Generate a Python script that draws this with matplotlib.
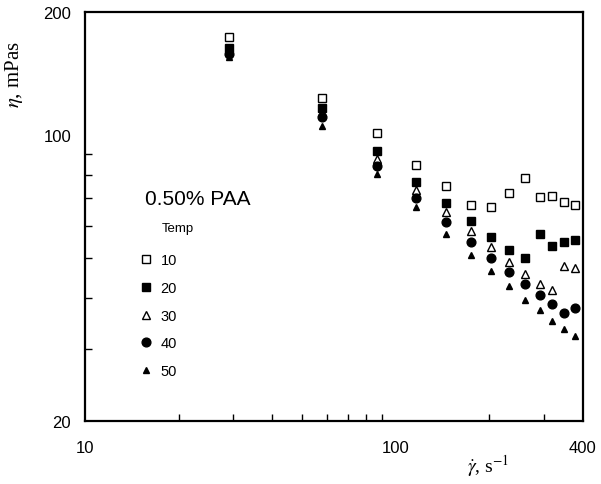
import matplotlib
matplotlib.use("Agg")
import matplotlib.pyplot as plt
from matplotlib.ticker import FixedLocator, NullFormatter, FixedFormatter

plt.rcParams['font.family'] = ['Liberation Sans', 'DejaVu Sans']
plt.rcParams['mathtext.fontset'] = 'stix'

# shear rate, 1/s
shear = [29, 58, 87, 116, 145, 174, 203, 232, 261, 290, 319, 348, 377]
# viscosity, mPas, per temperature
t10 = [173.7, 123.2, 101.2, 84.5, 75.1, 67.5, 66.7, 72.2, 78.6, 70.6, 71.0, 68.6, 67.5]
t20 = [163.3, 116.5, 91.5, 76.8, 68.2, 61.7, 56.4, 52.4, 50.1, 57.3, 53.6, 54.8, 55.4]
t30 = [160.6, 113.9, 87.4, 73.4, 64.9, 58.3, 53.3, 49.0, 45.8, 43.3, 41.8, 47.9, 47.3]
t40 = [157.9, 110.7, 84.0, 70.2, 61.3, 54.8, 50.1, 46.3, 43.3, 40.7, 38.6, 36.7, 37.8]
t50 = [155.2, 105.3, 80.3, 66.7, 57.3, 50.9, 46.5, 42.8, 39.5, 37.4, 35.1, 33.6, 32.3]

fig = plt.figure(figsize=(6.01, 4.85), dpi=100)
ax = fig.add_axes([0.1414, 0.1299, 0.8286, 0.8433])

h10, = ax.plot(shear, t10, 's', ms=5.8, mfc='white', mec='black', mew=1.0, ls='none', label='10')
h30, = ax.plot(shear, t30, '^', ms=6.3, mfc='white', mec='black', mew=1.0, ls='none', label='30')
h20, = ax.plot(shear, t20, 's', ms=5.8, color='black', ls='none', label='20')
h40, = ax.plot(shear, t40, 'o', ms=6.3, color='black', ls='none', label='40')
h50, = ax.plot(shear, t50, '^', ms=4.8, color='black', ls='none', label='50')

ax.set_xscale('log')
ax.set_yscale('log')
ax.set_xlim(10, 400)
ax.set_ylim(20, 200)

ax.xaxis.set_major_locator(FixedLocator([10, 100, 400]))
ax.xaxis.set_major_formatter(FixedFormatter(['10', '100', '400']))
ax.xaxis.set_minor_locator(FixedLocator([20, 30, 40, 50, 60, 70, 80, 90, 200, 300]))
ax.xaxis.set_minor_formatter(NullFormatter())
ax.yaxis.set_major_locator(FixedLocator([20, 100, 200]))
ax.yaxis.set_major_formatter(FixedFormatter(['20', '100', '200']))
ax.yaxis.set_minor_locator(FixedLocator([30, 40, 50, 60, 70, 80, 90]))
ax.yaxis.set_minor_formatter(NullFormatter())

ax.tick_params(which='both', direction='in', top=False, right=False, width=1.0, labelsize=12)
ax.tick_params(which='both', length=5)
ax.tick_params(axis='x', which='major', pad=14)
ax.tick_params(axis='y', which='major', pad=10)
# corner labels should not get a visible tick
for t in ax.xaxis.get_major_ticks():
    t.tick1line.set_visible(t.get_loc() == 100)
for t in ax.yaxis.get_major_ticks():
    t.tick1line.set_visible(t.get_loc() == 100)

for s in ax.spines.values():
    s.set_linewidth(1.6)

ax.set_xlabel(r'$\dot{\gamma}$, s$^{-1}$', fontsize=14, fontfamily='Liberation Serif')
ax.xaxis.set_label_coords(0.81, -0.075)
ax.set_ylabel(r'$\eta$, mPas', fontsize=15, fontfamily='Liberation Serif')
ax.yaxis.set_label_coords(-0.12, 0.85)

ax.text(0.12, 0.545, '0.50% PAA', transform=ax.transAxes, fontsize=15, va='center', ha='left')
ax.text(0.155, 0.473, 'Temp', transform=ax.transAxes, fontsize=9.5, va='center', ha='left')

ax.legend(handles=[h10, h20, h30, h40, h50], loc='upper left', bbox_to_anchor=(0.111, 0.411),
          frameon=False, fontsize=10.5, handlelength=0.8, handletextpad=0.6,
          labelspacing=0.95, borderpad=0, borderaxespad=0)

fig.savefig('out.png', dpi=100)
